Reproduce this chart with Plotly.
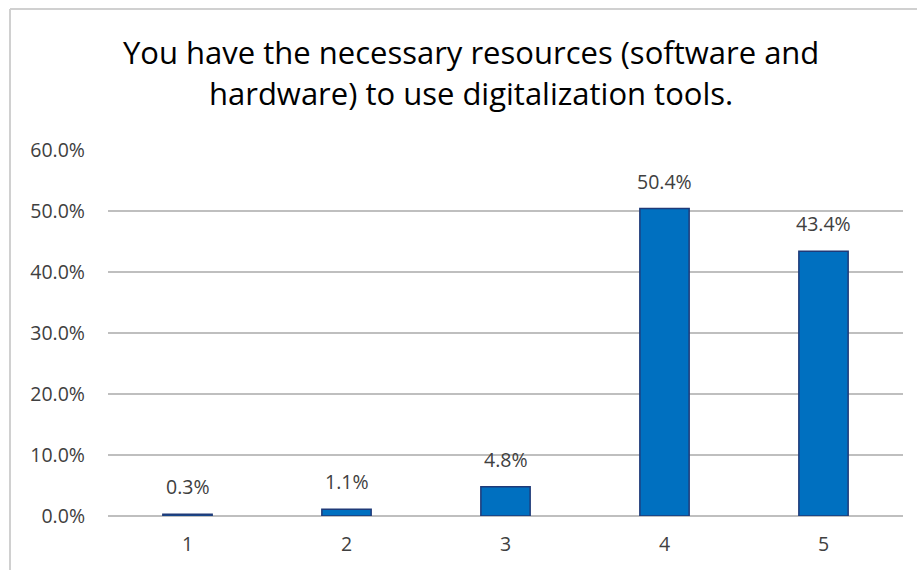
import plotly.graph_objects as go

# Survey answers on a 1-5 scale and the share of respondents for each
categories = ["1", "2", "3", "4", "5"]
shares = [0.3, 1.1, 4.8, 50.4, 43.4]
y_ticks = [0, 10, 20, 30, 40, 50, 60]
y_tick_labels = [f"{v:.1f}%" for v in y_ticks]
title_lines = [
    "You have the necessary resources (software and",
    "hardware) to use digitalization tools.",
]

W, H = 917, 570
ML, MR, MT, MB = 108, 14, 150, 54
PW, PH = W - ML - MR, H - MT - MB

FONT = "Open Sans"
TEXT = "#404040"
TICK_SIZE = 19.5

positions = list(range(len(categories)))

fig = go.Figure()
fig.add_trace(
    go.Bar(
        x=positions,
        y=shares,
        width=0.31,
        marker=dict(color="#0070C0", line=dict(color="#1F3A78", width=1.5)),
        hoverinfo="skip",
    )
)

annotations = []
# value labels above each bar
for p, v in zip(positions, shares):
    annotations.append(
        dict(
            x=p, y=v, xref="x", yref="y",
            text=f"{v:.1f}%",
            showarrow=False,
            yanchor="bottom",
            yshift=12,
            font=dict(family=FONT, size=TICK_SIZE, color=TEXT),
        )
    )

# two-line chart title
def py(px):
    return 1 - (px - MT) / PH

for line, ypx in zip(title_lines, [52, 93]):
    annotations.append(
        dict(
            x=(471 - ML) / PW, y=py(ypx), xref="paper", yref="paper",
            text=line, showarrow=False,
            xanchor="center", yanchor="middle",
            font=dict(family=FONT, size=31, color="#000000"),
        )
    )

# light frame on the left and top edges of the chart area
frame = dict(color="#D0D0D0", width=2)
shapes = [
    dict(type="line", xref="paper", yref="paper",
         x0=(10 - ML) / PW, x1=(10 - ML) / PW, y0=py(9), y1=py(H + 5), line=frame),
    dict(type="line", xref="paper", yref="paper",
         x0=(10 - ML) / PW, x1=(W + 5 - ML) / PW, y0=py(9), y1=py(9), line=frame),
]

fig.update_layout(
    width=W,
    height=H,
    margin=dict(l=ML, r=MR, t=MT, b=MB, pad=0),
    paper_bgcolor="white",
    plot_bgcolor="white",
    showlegend=False,
    annotations=annotations,
    shapes=shapes,
    xaxis=dict(
        range=[-0.5, len(categories) - 0.5],
        tickvals=positions,
        ticktext=categories,
        showgrid=False,
        showline=False,
        zeroline=False,
        ticks="",
        tickfont=dict(family=FONT, size=TICK_SIZE, color=TEXT),
        ticklabelstandoff=14,
    ),
    yaxis=dict(
        range=[0, 60],
        tickvals=y_ticks,
        ticktext=y_tick_labels,
        showgrid=True,
        gridcolor="#BFBFBF",
        gridwidth=1.5,
        zeroline=True,
        zerolinecolor="#BFBFBF",
        zerolinewidth=1.5,
        showline=False,
        ticks="",
        tickfont=dict(family=FONT, size=TICK_SIZE, color=TEXT),
        ticklabelstandoff=22,
    ),
)

fig.write_html("out.html")
